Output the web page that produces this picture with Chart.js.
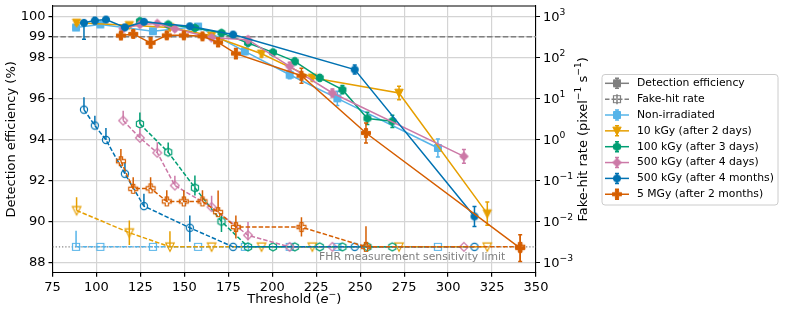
<!DOCTYPE html>
<html lang="en">
<head>
<meta charset="UTF-8">
<script src="https://cdn.jsdelivr.net/npm/chart.js"></script>
<title>Detection efficiency and fake-hit rate vs threshold</title>
<style>
  html, body { margin: 0; padding: 0; background: #fff; }
  #c { display: block; }
</style>
</head>
<body>
<canvas id="c" width="785" height="314"></canvas>
<script>
// FHR sensitivity limit (pixel^-1 s^-1) and the 99 % reference line
const fhrLimit = 2.4e-3;
const effRef = 99;

const effTicks = [88, 90, 92, 94, 96, 98, 99, 100];
const fhrTicks = [1e-3, 1e-2, 1e-1, 1, 10, 100, 1000];

const seriesLabels = ['Non-irradiated', '10 kGy (after 2 days)', '100 kGy (after 3 days)',
  '500 kGy (after 4 days)', '500 kGy (after 4 months)', '5 MGy (after 2 months)'];
const seriesColors = ['#56B4E9', '#E69F00', '#009E73', '#CC79A7', '#0072B2', '#D55E00'];
const seriesMarkers = ['square', 'triDown', 'hexagon', 'diamond', 'circle', 'plus'];

// Non-irradiated
const thrNonIrr = [88.4, 102.2, 132.1, 157.8, 184.4, 209.9, 237.0, 294.2];
const effNonIrr = [99.45, 99.6, 99.27, 99.5, 98.29, 97.15, 96.0, 93.58];
const effErrNonIrr = [0.1, 0.1, 0.1, 0.1, 0.15, 0.2, 0.35, 0.44];
const fhrNonIrr = [fhrLimit, fhrLimit, fhrLimit, fhrLimit, fhrLimit, fhrLimit, fhrLimit, fhrLimit];
const fhrUpNonIrr = [0.39, 0, 0, 0, 0, 0, 0, 0];   // decades
const fhrDnNonIrr = [0, 0, 0, 0, 0, 0, 0, 0];

// 10 kGy (after 2 days)
const thr10k = [88.7, 118.7, 141.8, 165.5, 193.9, 222.8, 272.1, 322.3];
const eff10k = [99.68, 99.56, 99.45, 99.05, 98.17, 97.0, 96.26, 90.38];
const effErr10k = [0.1, 0.1, 0.1, 0.1, 0.15, 0.15, 0.33, 0.57];
const fhr10k = [0.0185, 0.0053, fhrLimit, fhrLimit, fhrLimit, fhrLimit, fhrLimit, fhrLimit];
const fhrUp10k = [0.32, 0.3, 0.38, 0, 0, 0, 0, 0];
const fhrDn10k = [0, 0.3, 0, 0, 0, 0, 0, 0];

// 100 kGy (after 3 days)
const thr100k = [124.7, 140.8, 156.0, 171.1, 186.2, 200.4, 212.8, 227.0, 239.9, 254.1, 268.3];
const eff100k = [99.76, 99.6, 99.43, 99.19, 98.7, 98.24, 97.8, 97.0, 96.42, 95.02, 94.88];
const effErr100k = [0.1, 0.1, 0.1, 0.1, 0.12, 0.12, 0.15, 0.15, 0.2, 0.3, 0.3];
const fhr100k = [2.38, 0.485, 0.066, 0.010, fhrLimit, fhrLimit, fhrLimit, fhrLimit, fhrLimit, fhrLimit, fhrLimit];
const fhrUp100k = [0.28, 0.24, 0.3, 0.19, 0, 0, 0, 0, 0, 0, 0];
const fhrDn100k = [0, 0, 0.19, 0.26, 0, 0, 0, 0, 0, 0, 0];

// 500 kGy (after 4 days)
const thr500kD = [115.2, 124.7, 134.6, 144.6, 165.5, 186.2, 209.9, 234.2, 309.0];
const eff500kD = [99.39, 99.6, 99.65, 99.39, 98.95, 98.86, 97.56, 96.26, 93.17];
const effErr500kD = [0.1, 0.1, 0.1, 0.1, 0.12, 0.15, 0.2, 0.2, 0.34];
const fhr500kD = [2.87, 1.09, 0.47, 0.075, 0.0223, 0.0046, fhrLimit, fhrLimit, fhrLimit];
const fhrUp500kD = [0.24, 0.24, 0.26, 0.24, 0.28, 0.32, 0, 0, 0];
const fhrDn500kD = [0, 0, 0, 0, 0, 0.12, 0, 0, 0];

// 500 kGy (after 4 months)
const thr500kM = [92.9, 99.1, 105.4, 116.2, 127.0, 153.1, 177.7, 246.9, 315.0];
const eff500kM = [99.68, 99.79, 99.84, 99.46, 99.73, 99.51, 99.11, 97.4, 90.24];
const effErr500kM = [[0.8, 0], 0.15, 0.1, 0.1, 0.1, 0.1, 0.1, 0.22, 0.49];
const fhr500kM = [5.3, 2.17, 0.97, 0.145, 0.0236, 0.0070, fhrLimit, fhrLimit, fhrLimit];
const fhrUp500kM = [0.3, 0.24, 0.29, 0.28, 0.3, 0.3, 0, 0, 0];
const fhrDn500kM = [0, 0, 0, 0, 0, 0.34, 0, 0, 0];

// 5 MGy (after 2 months)
const thr5M = [113.9, 120.9, 130.8, 140.0, 149.7, 160.3, 169.2, 179.3, 216.6, 253.3, 341.0];
const eff5M = [99.06, 99.14, 98.7, 99.07, 99.07, 99.02, 98.73, 98.18, 97.1, 94.31, 88.7];
const effErr5M = [0.15, 0.15, 0.25, 0.15, 0.12, 0.12, 0.2, 0.25, 0.36, 0.49, 0.65];
const fhr5M = [0.293, 0.0625, 0.064, 0.0307, 0.0307, 0.0307, 0.0168, 0.00727, 0.00727, fhrLimit, fhrLimit];
const fhrUp5M = [0.3, 0.28, 0.27, 0.27, 0.27, 0.27, 0.53, 0.28, 0.24, 0.5, 0.28];
const fhrDn5M = [0, 0, 0, 0, 0, 0, 0, 0.28, 0.23, 0, 0.36];

const series = [
  { thr: thrNonIrr, eff: effNonIrr, effErr: effErrNonIrr, fhr: fhrNonIrr, up: fhrUpNonIrr, dn: fhrDnNonIrr },
  { thr: thr10k, eff: eff10k, effErr: effErr10k, fhr: fhr10k, up: fhrUp10k, dn: fhrDn10k },
  { thr: thr100k, eff: eff100k, effErr: effErr100k, fhr: fhr100k, up: fhrUp100k, dn: fhrDn100k },
  { thr: thr500kD, eff: eff500kD, effErr: effErr500kD, fhr: fhr500kD, up: fhrUp500kD, dn: fhrDn500kD },
  { thr: thr500kM, eff: eff500kM, effErr: effErr500kM, fhr: fhr500kM, up: fhrUp500kM, dn: fhrDn500kM },
  { thr: thr5M, eff: eff5M, effErr: effErr5M, fhr: fhr5M, up: fhrUp5M, dn: fhrDn5M }
];

const FONT = "'DejaVu Sans', sans-serif";
const GRAY = '#7f7f7f';

// marker images (matplotlib-like shapes)
function makeMarker(shape, color, filled) {
  const s = 14, c = s / 2;
  const cv = document.createElement('canvas');
  cv.width = s; cv.height = s;
  const g = cv.getContext('2d');
  g.beginPath();
  if (shape === 'square') {
    g.rect(c - 3.5, c - 3.5, 7, 7);
  } else if (shape === 'circle') {
    g.arc(c, c, 3.6, 0, Math.PI * 2);
  } else if (shape === 'triDown') {
    g.moveTo(c - 4.2, c - 3.8); g.lineTo(c + 4.2, c - 3.8); g.lineTo(c, c + 4.4); g.closePath();
  } else if (shape === 'diamond') {
    g.moveTo(c, c - 4.4); g.lineTo(c + 4.4, c); g.lineTo(c, c + 4.4); g.lineTo(c - 4.4, c); g.closePath();
  } else if (shape === 'hexagon') {
    for (let k = 0; k < 6; k++) {
      const a = -Math.PI / 2 + k * Math.PI / 3;
      const px = c + 4.1 * Math.cos(a), py = c + 4.1 * Math.sin(a);
      if (k === 0) g.moveTo(px, py); else g.lineTo(px, py);
    }
    g.closePath();
  } else if (shape === 'plus') {
    const a = 4.5, b = 1.6;
    const pts = [[-b, -a], [b, -a], [b, -b], [a, -b], [a, b], [b, b], [b, a], [-b, a], [-b, b], [-a, b], [-a, -b], [-b, -b]];
    pts.forEach((p, k) => k === 0 ? g.moveTo(c + p[0], c + p[1]) : g.lineTo(c + p[0], c + p[1]));
    g.closePath();
  }
  g.strokeStyle = color;
  if (filled) {
    g.fillStyle = color; g.fill();
    g.lineWidth = 1; g.stroke();
  } else {
    g.lineWidth = 1.2; g.stroke();
  }
  return cv;
}

const datasets = [];
series.forEach((s, i) => {
  const col = seriesColors[i];
  datasets.push({
    label: seriesLabels[i],
    data: s.thr.map((t, k) => ({ x: t, y: s.eff[k] })),
    yAxisID: 'y',
    borderColor: col,
    borderWidth: 1.5,
    pointStyle: makeMarker(seriesMarkers[i], col, true),
    pointRadius: 4,
    order: 100 - i,
    errLo: s.eff.map((v, k) => { const e = s.effErr[k]; return v - (Array.isArray(e) ? e[0] : e); }),
    errHi: s.eff.map((v, k) => { const e = s.effErr[k]; return v + (Array.isArray(e) ? e[1] : e); }),
    capHalf: 2
  });
  datasets.push({
    label: seriesLabels[i] + ' FHR',
    data: s.thr.map((t, k) => ({ x: t, y: s.fhr[k] })),
    yAxisID: 'y2',
    borderColor: col,
    borderWidth: 1.5,
    borderDash: [4.5, 2],
    pointStyle: makeMarker(seriesMarkers[i], col, false),
    pointRadius: 4,
    order: 50 - i,
    errLo: s.fhr.map((v, k) => v / Math.pow(10, s.dn[k])),
    errHi: s.fhr.map((v, k) => v * Math.pow(10, s.up[k])),
    capHalf: 0
  });
});

const legendEntries = [
  { label: 'Detection efficiency', color: GRAY, marker: 'square', filled: true, dashed: false },
  { label: 'Fake-hit rate', color: GRAY, marker: 'square', filled: false, dashed: true }
].concat(seriesLabels.map((l, i) => ({ label: l, color: seriesColors[i], marker: seriesMarkers[i], filled: true, dashed: false })));

// text made of runs: [text, font, raise]
function richWidth(ctx, runs) {
  let w = 0;
  runs.forEach(r => { ctx.font = r[1]; w += ctx.measureText(r[0]).width; });
  return w;
}
function drawRich(ctx, runs, x, y, align) {
  let cx = align === 'center' ? x - richWidth(ctx, runs) / 2 : x;
  ctx.textAlign = 'left';
  ctx.textBaseline = 'middle';
  runs.forEach(r => {
    ctx.font = r[1];
    ctx.fillText(r[0], cx, y - (r[2] || 0));
    cx += ctx.measureText(r[0]).width;
  });
}

const F13 = '13px ' + FONT;
const F13I = 'oblique 13px ' + FONT;
const F9 = '9.2px ' + FONT;

const extras = {
  id: 'extras',
  beforeDatasetsDraw(chart) {
    const { ctx, chartArea: a, scales } = chart;
    ctx.save();
    ctx.beginPath(); ctx.rect(a.left, a.top, a.width, a.height); ctx.clip();
    ctx.strokeStyle = GRAY;
    // 99 % dashed line
    ctx.lineWidth = 1.4;
    ctx.setLineDash([5.5, 2.4]);
    const y99 = scales.y.getPixelForValue(effRef);
    ctx.beginPath(); ctx.moveTo(a.left, y99); ctx.lineTo(a.right, y99); ctx.stroke();
    // sensitivity limit dotted line
    ctx.lineWidth = 1.2;
    ctx.setLineDash([1.2, 2]);
    const yl = scales.y2.getPixelForValue(fhrLimit);
    ctx.beginPath(); ctx.moveTo(a.left, yl); ctx.lineTo(a.right, yl); ctx.stroke();
    ctx.restore();
  },
  beforeDatasetDraw(chart, args) {
    const ds = chart.data.datasets[args.index];
    const { ctx, chartArea: a, scales } = chart;
    const ys = scales[ds.yAxisID];
    ctx.save();
    ctx.beginPath(); ctx.rect(a.left, a.top, a.width, a.height); ctx.clip();
    ctx.strokeStyle = ds.borderColor;
    ctx.lineWidth = 1.5;
    ds.data.forEach((p, k) => {
      if (ds.errHi[k] === ds.errLo[k]) return;
      const x = scales.x.getPixelForValue(p.x);
      const y1 = ys.getPixelForValue(ds.errLo[k]);
      const y2 = ys.getPixelForValue(ds.errHi[k]);
      ctx.beginPath(); ctx.moveTo(x, y1); ctx.lineTo(x, y2);
      if (ds.capHalf) {
        ctx.moveTo(x - ds.capHalf, y1); ctx.lineTo(x + ds.capHalf, y1);
        ctx.moveTo(x - ds.capHalf, y2); ctx.lineTo(x + ds.capHalf, y2);
      }
      ctx.stroke();
    });
    ctx.restore();
  },
  afterDraw(chart) {
    const { ctx, chartArea: a, scales } = chart;
    ctx.save();
    // top spine
    ctx.strokeStyle = '#000'; ctx.lineWidth = 1.1;
    ctx.beginPath(); ctx.moveTo(a.left, a.top); ctx.lineTo(a.right, a.top); ctx.stroke();

    ctx.fillStyle = '#000';
    // right axis tick labels, 10^n
    fhrTicks.forEach(v => {
      const n = Math.round(Math.log10(v));
      drawRich(ctx, [['10', F13], [String(n).replace('-', '\u2212'), F9, 5]],
        a.right + 7, scales.y2.getPixelForValue(v) + 1, 'left');
    });
    // x axis title
    drawRich(ctx, [['Threshold (', F13], ['e', F13I], ['\u2212', F9, 5], [')', F13]],
      (a.left + a.right) / 2, 300, 'center');
    // right axis title, reading upwards
    ctx.save();
    ctx.translate(584, (a.top + a.bottom) / 2);
    ctx.rotate(-Math.PI / 2);
    drawRich(ctx, [['Fake-hit rate (pixel', F13], ['\u22121', F9, 5], [' s', F13], ['\u22121', F9, 5], [')', F13]],
      0, 0, 'center');
    ctx.restore();

    // sensitivity limit text
    ctx.fillStyle = GRAY;
    ctx.font = '10.8px ' + FONT;
    ctx.textAlign = 'right'; ctx.textBaseline = 'middle';
    ctx.fillText('FHR measurement sensitivity limit', scales.x.getPixelForValue(332.5),
      scales.y2.getPixelForValue(fhrLimit) + 10);

    // legend
    const lx = 602, ly = 74.5, lw = 176, lh = 130.5;
    ctx.beginPath();
    ctx.roundRect(lx, ly, lw, lh, 3);
    ctx.fillStyle = 'rgba(255,255,255,0.8)'; ctx.fill();
    ctx.strokeStyle = '#cccccc'; ctx.lineWidth = 1; ctx.stroke();
    ctx.textAlign = 'left'; ctx.textBaseline = 'middle';
    legendEntries.forEach((e, i) => {
      const yy = 83.3 + i * 15.85;
      const mx = 617;
      ctx.strokeStyle = e.color; ctx.lineWidth = 1.5;
      ctx.setLineDash(e.dashed ? [4.5, 2] : []);
      ctx.beginPath(); ctx.moveTo(605, yy); ctx.lineTo(629, yy); ctx.stroke();
      ctx.setLineDash([]);
      ctx.beginPath(); ctx.moveTo(mx, yy - 5); ctx.lineTo(mx, yy + 5);
      if (!e.dashed) {
        ctx.moveTo(mx - 2, yy - 5); ctx.lineTo(mx + 2, yy - 5);
        ctx.moveTo(mx - 2, yy + 5); ctx.lineTo(mx + 2, yy + 5);
      }
      ctx.stroke();
      const img = makeMarker(e.marker, e.color, e.filled);
      ctx.drawImage(img, mx - img.width / 2, yy - img.height / 2);
      ctx.fillStyle = '#000';
      ctx.font = '10.8px ' + FONT;
      ctx.fillText(e.label, 637, yy);
    });
    ctx.restore();
  }
};

Chart.defaults.font.family = FONT;
Chart.defaults.font.size = 13;
Chart.defaults.color = '#000';

function noPad(s) { s.paddingTop = 0; s.paddingBottom = 0; }

new Chart(document.getElementById('c'), {
  type: 'line',
  data: { datasets: datasets },
  options: {
    responsive: false,
    animation: false,
    devicePixelRatio: 1,
    layout: { padding: { top: 6, right: 189, left: 0, bottom: 0 } },
    plugins: { legend: { display: false }, tooltip: { enabled: false } },
    elements: { line: { tension: 0, fill: false } },
    scales: {
      x: {
        type: 'linear', min: 75, max: 350,
        ticks: { stepSize: 25, padding: 3 },
        grid: { color: '#d4d4d4', lineWidth: 1.2, tickColor: '#000', tickLength: 4 },
        border: { color: '#000', width: 1.1 },
        afterFit(s) { s.height = 41.3; s.paddingLeft = 0; s.paddingRight = 0; }
      },
      y: {
        type: 'linear', position: 'left', min: 87.5, max: 100.5,
        afterBuildTicks(s) { s.ticks = effTicks.map(v => ({ value: v })); },
        ticks: { padding: 3 },
        grid: { color: '#d4d4d4', lineWidth: 1.2, tickColor: '#000', tickLength: 4 },
        border: { color: '#000', width: 1.1 },
        title: { display: true, text: 'Detection efficiency (%)', padding: { top: 4, bottom: 4 } },
        afterFit(s) { s.width = 52.5; noPad(s); }
      },
      y2: {
        type: 'logarithmic', position: 'right', min: Math.pow(10, -3.25), max: Math.pow(10, 3.25),
        afterBuildTicks(s) { s.ticks = fhrTicks.map(v => ({ value: v })); },
        ticks: { display: false },
        grid: { drawOnChartArea: false, tickColor: '#000', tickLength: 4 },
        border: { color: '#000', width: 1.1 },
        afterFit(s) { s.width = 60; noPad(s); }
      }
    }
  },
  plugins: [extras]
});
</script>
</body>
</html>
